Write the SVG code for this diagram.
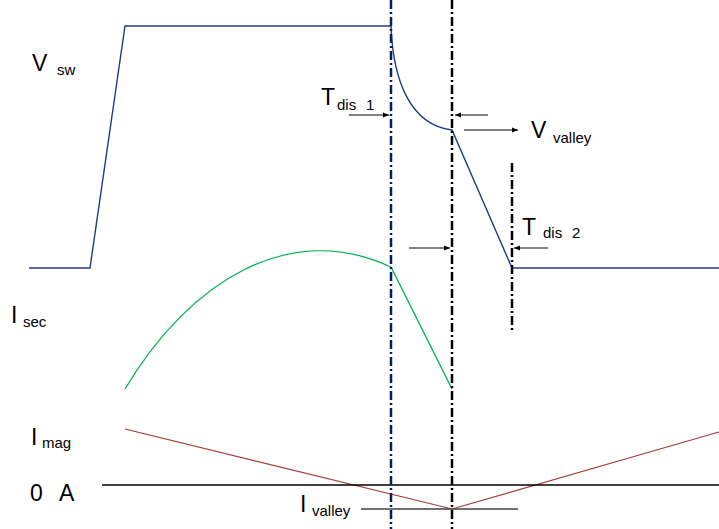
<svg xmlns="http://www.w3.org/2000/svg" width="719" height="529" viewBox="0 0 719 529">
<style>
text{font-family:"Liberation Sans",Arial,sans-serif;fill:#000}
.big{font-size:23px}
.sub{font-size:15px}
.vsw{fill:none;stroke:#1F3C88;stroke-width:1.4}
.isec{fill:none;stroke:#00B050;stroke-width:1.3}
.imag{fill:none;stroke:#A33B35;stroke-width:1.2}
.dd{fill:none;stroke-width:2.5;stroke-dasharray:9 3 2 3}
.arr{stroke:#595959;stroke-width:1.3;fill:none;marker-end:url(#ah)}
</style>
<defs>
<marker id="ah" viewBox="0 0 10 10" refX="10" refY="5" markerWidth="6" markerHeight="6" markerUnits="userSpaceOnUse" orient="auto">
<path d="M0,1 L10,5 L0,9 Z" fill="#000"/>
</marker>
</defs>
<rect width="719" height="529" fill="#fff"/>
<g id="connectors">
<path id="vsw" class="vsw" d="M29,268 L90,268 L125,26 L391,26 C393,80 410,125 452,130 L512,268 L719,268"/>
<path id="isec" class="isec" d="M125,389 C190,280 290,220 391,267 L452,389"/>
<path id="imag" class="imag" d="M125,429 L452,509 L719,432"/>
<line x1="102" y1="485" x2="719" y2="485" stroke="#000" stroke-width="1.3"/>
<line x1="361" y1="509" x2="518" y2="509" stroke="#404040" stroke-width="1.3"/>
<line class="dd" x1="391" y1="0" x2="391" y2="529" stroke="#002060"/>
<line class="dd" x1="452" y1="0" x2="452" y2="529" stroke="#000"/>
<line class="dd" x1="512" y1="163" x2="512" y2="332" stroke="#000"/>
<line class="arr" x1="349" y1="115" x2="389" y2="115"/>
<line class="arr" x1="488" y1="115" x2="455" y2="115"/>
<line class="arr" x1="464" y1="130" x2="518" y2="130"/>
<line class="arr" x1="409" y1="248" x2="450" y2="248"/>
<line class="arr" x1="548" y1="248" x2="514" y2="248"/>
</g>
<g id="label-vsw"><text class="big" x="32" y="71">V</text><text class="sub" x="57" y="75">sw</text></g>
<g id="label-tdis1"><text class="big" x="321" y="105">T</text><text class="sub" x="337" y="110">dis</text><text class="sub" x="366" y="110">1</text></g>
<g id="label-vvalley"><text class="big" x="531" y="138">V</text><text class="sub" x="553" y="143">valley</text></g>
<g id="label-tdis2"><text class="big" x="522" y="235">T</text><text class="sub" x="543" y="238">dis</text><text class="sub" x="572" y="238">2</text></g>
<g id="label-isec"><text class="big" x="11" y="323">I</text><text class="sub" x="23" y="327">sec</text></g>
<g id="label-imag"><text class="big" x="31" y="445">I</text><text class="sub" x="42" y="448">mag</text></g>
<g id="label-0a"><text class="big" x="30" y="501">0</text><text class="big" x="59" y="501">A</text></g>
<g id="label-ivalley"><text class="big" x="300" y="512">I</text><text class="sub" x="312" y="516">valley</text></g>
</svg>
